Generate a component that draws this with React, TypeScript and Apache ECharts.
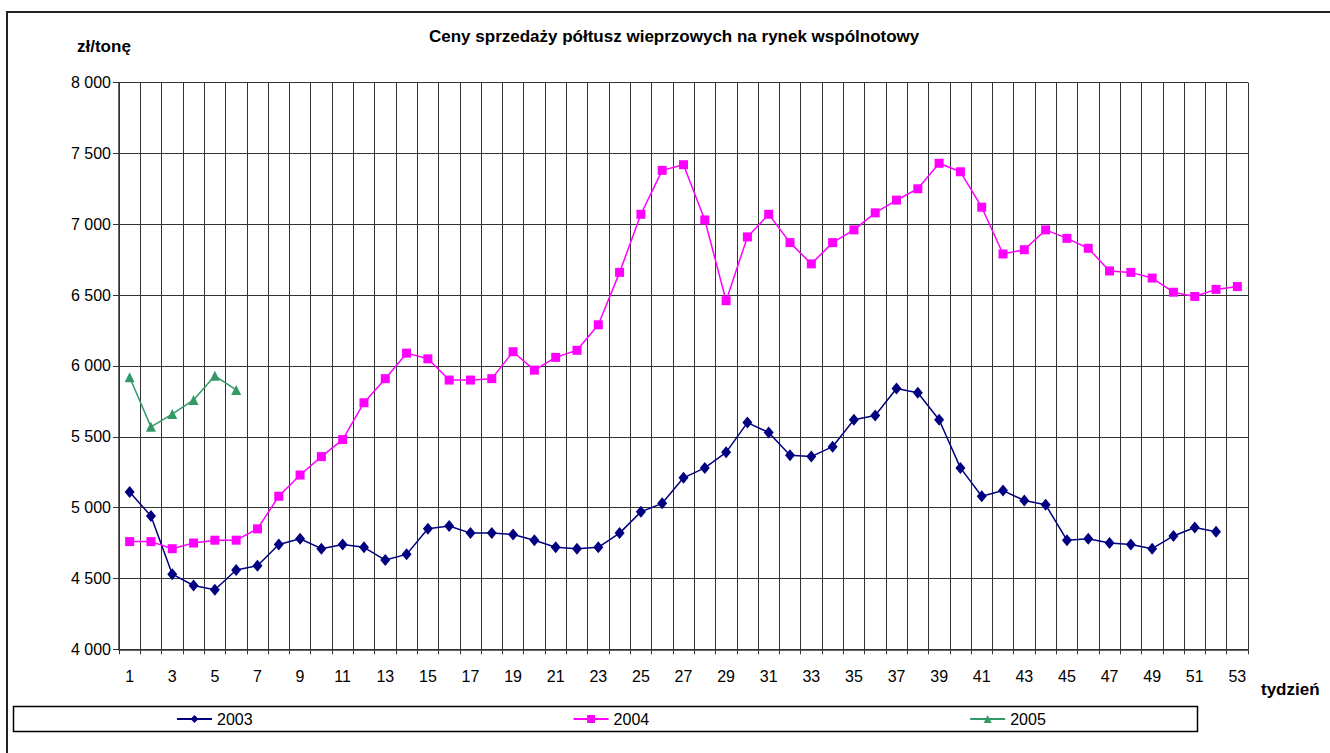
import React, { useEffect, useRef } from "react";
import * as echarts from "echarts";

const weeks: string[] = Array.from({ length: 53 }, (_, i) => String(i + 1));

const series2003: (number | null)[] = [
  5110, 4940, 4530, 4450, 4420, 4560, 4590, 4740, 4780, 4710,
  4740, 4720, 4630, 4670, 4850, 4870, 4820, 4820, 4810, 4770,
  4720, 4710, 4720, 4820, 4970, 5030, 5210, 5280, 5390, 5600,
  5530, 5370, 5360, 5430, 5620, 5650, 5840, 5810, 5620, 5280,
  5080, 5120, 5050, 5020, 4770, 4780, 4750, 4740, 4710, 4800,
  4860, 4830, null,
];

const series2004: number[] = [
  4760, 4760, 4710, 4750, 4770, 4770, 4850, 5080, 5230, 5360,
  5480, 5740, 5910, 6090, 6050, 5900, 5900, 5910, 6100, 5970,
  6060, 6110, 6290, 6660, 7070, 7380, 7420, 7030, 6460, 6910,
  7070, 6870, 6720, 6870, 6960, 7080, 7170, 7250, 7430, 7370,
  7120, 6790, 6820, 6960, 6900, 6830, 6670, 6660, 6620, 6520,
  6490, 6540, 6560,
];

const series2005: number[] = [5920, 5570, 5660, 5760, 5930, 5830];

const seriesNames: string[] = ["2003", "2004", "2005"];

const FONT = "'Liberation Sans', Arial, sans-serif";

const fmtThousands = (v: number) => {
  const s = String(Math.round(v));
  return s.replace(/\B(?=(\d{3})+(?!\d))/g, " ");
};

export default function App() {
  const ref = useRef<HTMLDivElement>(null);

  useEffect(() => {
    if (!ref.current) return;
    const chart = echarts.init(ref.current, undefined, { renderer: "svg" });
    chart.setOption({
      animation: false,
      backgroundColor: "#ffffff",
      title: {
        text: "Ceny sprzedaży półtusz wieprzowych na rynek wspólnotowy",
        left: 429,
        top: 28,
        padding: 0,
        textStyle: { fontFamily: FONT, fontSize: 17, fontWeight: "bold", color: "#000" },
      },
      legend: {
        data: seriesNames,
        left: 176,
        top: 711,
        padding: 0,
        itemWidth: 35,
        itemHeight: 10,
        itemGap: 320,
        textStyle: { fontFamily: FONT, fontSize: 16, color: "#000", padding: [0, 0, 0, 0] },
      },
      grid: { left: 119, right: 82, top: 82.5, bottom: 103.7, containLabel: false },
      xAxis: {
        type: "category",
        data: weeks,
        boundaryGap: true,
        axisLine: { show: true, lineStyle: { color: "#333", width: 1.5 } },
        axisTick: { show: true, interval: 0, length: 5, lineStyle: { color: "#333" } },
        axisLabel: { interval: 1, margin: 19, fontFamily: FONT, fontSize: 16, color: "#000" },
        splitLine: { show: true, interval: 0, lineStyle: { color: "#333", width: 1 } },
      },
      yAxis: {
        type: "value",
        min: 4000,
        max: 8000,
        interval: 500,
        axisLine: { show: true, lineStyle: { color: "#333", width: 1.5 } },
        axisTick: { show: true, length: 6, lineStyle: { color: "#333" } },
        axisLabel: {
          margin: 8,
          fontFamily: FONT,
          fontSize: 16,
          color: "#000",
          formatter: (v: number) => fmtThousands(v),
        },
        splitLine: { show: true, lineStyle: { color: "#333", width: 1 } },
      },
      series: [
        {
          name: seriesNames[0],
          type: "line",
          data: series2003,
          symbol: "diamond",
          symbolSize: [10, 12],
          itemStyle: { color: "#000080" },
          lineStyle: { color: "#000080", width: 1.5 },
        },
        {
          name: seriesNames[1],
          type: "line",
          data: series2004,
          symbol: "rect",
          symbolSize: 9,
          itemStyle: { color: "#FF00FF" },
          lineStyle: { color: "#FF00FF", width: 1.5 },
        },
        {
          name: seriesNames[2],
          type: "line",
          data: series2005,
          symbol: "triangle",
          symbolSize: 10,
          itemStyle: { color: "#339966" },
          lineStyle: { color: "#339966", width: 1.5 },
        },
      ],
      graphic: [
        {
          type: "polyline",
          shape: { points: [[7, 753], [7, 12], [1330, 12]] },
          style: { stroke: "#222", lineWidth: 2, fill: "none" },
          silent: true,
        },
        {
          type: "rect",
          shape: { x: 13.5, y: 706.5, width: 1184, height: 25 },
          style: { stroke: "#000", lineWidth: 1.5, fill: "none" },
          silent: true,
          z: -1,
        },
        {
          type: "text",
          x: 77,
          y: 46,
          style: {
            text: "zł/tonę",
            font: `bold 17px ${FONT}`,
            fill: "#000",
            textVerticalAlign: "middle",
            verticalAlign: "middle",
          },
        },
        {
          type: "text",
          x: 1261,
          y: 689,
          style: {
            text: "tydzień",
            font: `bold 17px ${FONT}`,
            fill: "#000",
            textVerticalAlign: "middle",
            verticalAlign: "middle",
          },
        },
      ],
    });
    return () => chart.dispose();
  }, []);

  return (
    <div
      ref={ref}
      style={{ position: "fixed", left: 0, top: 0, width: 1330, height: 753, background: "#fff" }}
    />
  );
}
